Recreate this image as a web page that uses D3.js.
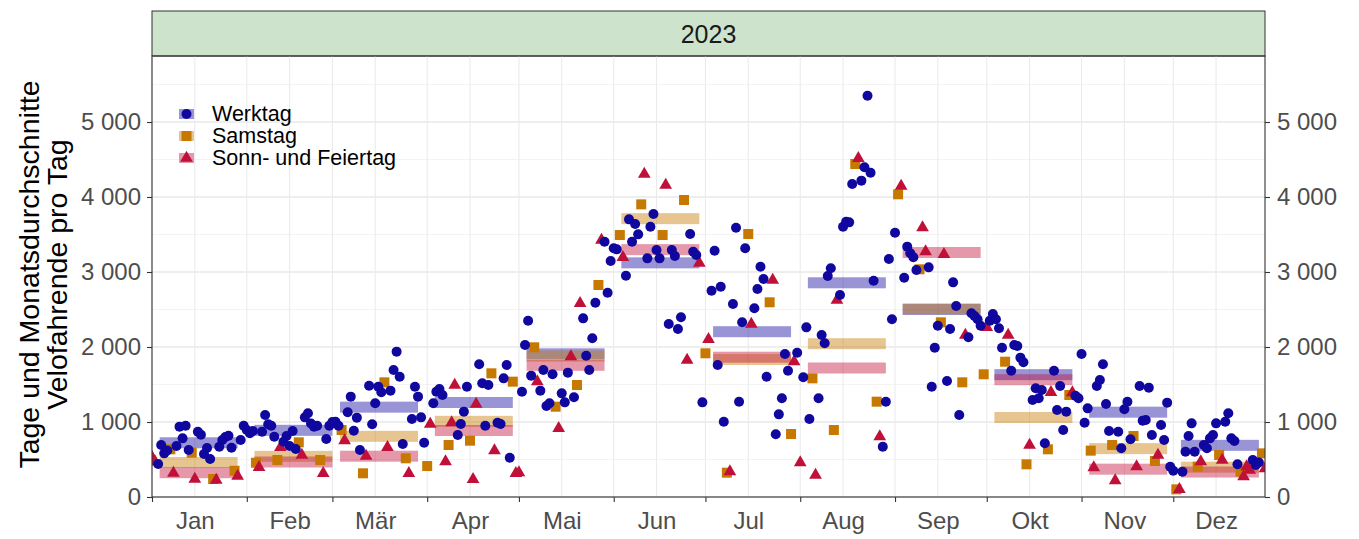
<!DOCTYPE html>
<html>
<head>
<meta charset="utf-8">
<style>
  body { margin: 0; background: #fff; font-family: "Liberation Sans", Arial, sans-serif; }
</style>
<title>Velofahrende 2023</title>
</head>
<body>
<script src="https://cdn.jsdelivr.net/npm/d3@7"></script>
<script>

// Categories and labels
var categories = ["Werktag", "Samstag", "Sonn- und Feiertag"];
var monthLabels = ["Jan", "Feb", "Mär", "Apr", "Mai", "Jun", "Jul", "Aug", "Sep", "Okt", "Nov", "Dez"];
var yTicks = [0, 1000, 2000, 3000, 4000, 5000];
var holidays = ["2023-01-02", "2023-04-07", "2023-04-10", "2023-04-17", "2023-05-01", "2023-05-18",
                "2023-06-29", "2023-08-01", "2023-09-11", "2023-12-25", "2023-12-26"];

// Daily counts, one array per month
var jan = [533, 470, 440, 693, 582, 620, 636, 320, 680, 938, 782, 950, 627, 590, 240, 870, 830, 573, 653, 507, 240, 227, 670, 760, 800, 817, 657, 350, 280, 760, 950];
var feb = [893, 849, 880, 457, 396, 871, 1093, 969, 950, 804, 493, 662, 737, 813, 680, 880, 640, 729, 560, 1062, 1116, 980, 938, 951, 493, 316, 773, 951];
var mar = [1000, 1004, 950, 893, 751, 1129, 1338, 884, 1058, 627, 316, 547, 1484, 969, 1249, 1471, 1396, 1529, 662, 1418, 1693, 1938, 1604, 707, 516, 316, 1040, 1471, 1338, 1062, 724];
var apr = [413, 973, 1249, 1404, 1440, 1360, 471, 693, 991, 1493, 827, 973, 1138, 1471, 751, 236, 1240, 1769, 1516, 951, 1493, 1649, 618, 991, 973, 1582, 1760, 524, 1538, 316];
var mai = [324, 1404, 2027, 2351, 1618, 1996, 1538, 1418, 1693, 1213, 1249, 1636, 1204, 916, 1382, 1262, 1658, 1871, 1329, 1493, 2582, 2382, 1884, 1693, 2116, 2591, 2827, 3427, 3404, 2724, 3147];
var jun = [3316, 3302, 3493, 3196, 2951, 3702, 3404, 3640, 3502, 3902, 4307, 3182, 3604, 3773, 3293, 3182, 3493, 4160, 2307, 3293, 3213, 2240, 2396, 3960, 1827, 3507, 3271, 3227, 3120, 1262];
var jul = [1916, 2102, 2751, 3284, 1760, 2804, 1004, 324, 338, 2573, 3591, 1271, 2329, 3316, 3507, 2307, 2516, 2773, 3071, 2907, 1604, 2596, 2893, 836, 1102, 1316, 1907, 1684, 840, 1804, 1924];
var aug = [458, 1596, 2262, 1040, 1582, 293, 1316, 2160, 2049, 2947, 3049, 893, 2627, 2693, 3604, 3671, 3662, 4173, 4440, 4516, 4218, 4396, 5351, 4324, 2884, 1271, 804, 671, 1271, 3173, 2369];
var sep = [3524, 4036, 4147, 2924, 3338, 3249, 3196, 3027, 3036, 3591, 3271, 3062, 1471, 1991, 2284, 2329, 3236, 1547, 2240, 2862, 2547, 1093, 1529, 2160, 2129, 2449, 2413, 2369, 2284, 1636];
var okt = [2262, 2351, 2440, 2369, 2249, 1991, 1804, 2160, 1684, 2027, 2013, 1858, 1796, 436, 693, 1293, 1449, 1316, 1427, 716, 636, 1396, 1684, 1160, 1480, 893, 1138, 1360, 1391, 1351, 1316];
var nov = [1907, 991, 1182, 618, 391, 1480, 1560, 1769, 1240, 880, 693, 218, 871, 649, 1169, 1271, 769, 813, 404, 1480, 1018, 1027, 1458, 827, 480, 560, 960, 760, 1258, 404];
var dez = [351, 102, 102, 338, 604, 813, 982, 604, 404, 471, 693, 649, 782, 827, 982, 560, 493, 1004, 1116, 782, 747, 436, 338, 271, 404, 360, 493, 427, 460, 582, 380];

// Monthly averages per category
var avgWerktag = [723, 889, 1198, 1260, 1909, 3122, 2204, 2856, 2500, 1631, 1131, 689];
var avgSamstag = [460, 542, 809, 1009, 1880, 3711, 1833, 2044, 2510, 1060, 645, 398];
var avgSonntag = [324, 467, 544, 887, 1756, 3298, 1864, 1720, 3260, 1564, 371, 333];

var monthValues = [jan, feb, mar, apr, mai, jun, jul, aug, sep, okt, nov, dez];
var averages = [avgWerktag, avgSamstag, avgSonntag];

var colors = ["#10079f", "#c77800", "#c0103a"];
var DAY = 864e5;

// build the daily table
var days = [];
monthValues.forEach(function(vals, m) {
  vals.forEach(function(v, i) {
    var date = new Date(Date.UTC(2023, m, i + 1));
    var iso = date.toISOString().slice(0, 10);
    var wd = date.getUTCDay();
    var cat = (holidays.indexOf(iso) >= 0 || wd == 0) ? 2 : (wd == 6 ? 1 : 0);
    days.push({date: date, value: v, cat: cat});
  });
});

var bars = [];
averages.forEach(function(arr, c) {
  arr.forEach(function(v, m) { bars.push({month: m, cat: c, value: v}); });
});

var width = 1359, height = 539;
var pLeft = 152, pRight = 1265, pTop = 56, pBottom = 497;

var x = d3.scaleUtc()
    .domain([new Date(Date.UTC(2023, 0, 1)), new Date(Date.UTC(2023, 11, 31))])
    .range([pLeft, pRight]);
var y = d3.scaleLinear()
    .domain([0, (pBottom - pTop) / 0.075])
    .range([pBottom, pTop]);

var fmt = d3.formatLocale({decimal: ".", thousands: " ", grouping: [3], currency: ["", ""]}).format(",d");

var svg = d3.select("body").append("svg")
    .attr("width", width)
    .attr("height", height)
    .attr("font-family", "Liberation Sans, Arial, sans-serif");

svg.append("defs").append("clipPath").attr("id", "panel")
  .append("rect").attr("x", pLeft).attr("y", pTop).attr("width", pRight - pLeft).attr("height", pBottom - pTop);

// strip
svg.append("rect")
    .attr("x", pLeft).attr("y", 11).attr("width", pRight - pLeft).attr("height", pTop - 11)
    .attr("fill", "#cde3cb").attr("stroke", "#333").attr("stroke-width", 1);
svg.append("text")
    .attr("x", (pLeft + pRight) / 2).attr("y", (11 + pTop) / 2)
    .attr("text-anchor", "middle").attr("dominant-baseline", "central")
    .attr("fill", "#1a1a1a").style("font-size", "25px")
    .text("2023");

// grid
var monthStarts = d3.range(12).map(m => new Date(Date.UTC(2023, m, 1)));
var midMonths = d3.range(12).map(m => new Date(Date.UTC(2023, m, 15)));
var grid = svg.append("g");
d3.range(500, 6000, 1000).forEach(function(v) {
  grid.append("line").attr("x1", pLeft).attr("x2", pRight).attr("y1", y(v)).attr("y2", y(v))
      .attr("stroke", "#f0f0f0").attr("stroke-width", 0.8);
});
yTicks.forEach(function(v) {
  grid.append("line").attr("x1", pLeft).attr("x2", pRight).attr("y1", y(v)).attr("y2", y(v))
      .attr("stroke", "#e8e8e8").attr("stroke-width", 1.3);
});
monthStarts.concat(midMonths).forEach(function(d) {
  grid.append("line").attr("x1", x(d)).attr("x2", x(d)).attr("y1", pTop).attr("y2", pBottom)
      .attr("stroke", "#ebebeb").attr("stroke-width", 1.1);
});

// monthly average bars
var plot = svg.append("g").attr("clip-path", "url(#panel)");
plot.selectAll(".avg")
    .data(bars)
  .enter().append("rect")
    .attr("class", "avg")
    .attr("x", d => x(new Date(Date.UTC(2023, d.month, 1) + 2.5 * DAY)))
    .attr("width", d => x(new Date(Date.UTC(2023, d.month, 1) + 28 * DAY)) - x(new Date(Date.UTC(2023, d.month, 1) + 2.5 * DAY)))
    .attr("y", d => y(d.value) - 5.5)
    .attr("height", 11)
    .attr("fill", d => colors[d.cat])
    .attr("fill-opacity", 0.43);

// daily points: saturdays, sundays, then workdays on top
var tri = d3.symbol().type(d3.symbolTriangle).size(70)();
plot.selectAll(".sat")
    .data(days.filter(d => d.cat == 1))
  .enter().append("rect")
    .attr("class", "sat")
    .attr("x", d => x(d.date) - 5).attr("y", d => y(d.value) - 5)
    .attr("width", 10).attr("height", 10)
    .attr("fill", colors[1]);
plot.selectAll(".sun")
    .data(days.filter(d => d.cat == 2))
  .enter().append("path")
    .attr("class", "sun")
    .attr("d", tri)
    .attr("transform", d => `translate(${x(d.date)},${y(d.value)})`)
    .attr("fill", colors[2]);
plot.selectAll(".work")
    .data(days.filter(d => d.cat == 0))
  .enter().append("circle")
    .attr("class", "work")
    .attr("cx", d => x(d.date)).attr("cy", d => y(d.value))
    .attr("r", 5)
    .attr("fill", colors[0]);

// panel border
svg.append("rect")
    .attr("x", pLeft).attr("y", pTop).attr("width", pRight - pLeft).attr("height", pBottom - pTop)
    .attr("fill", "none").attr("stroke", "#333").attr("stroke-width", 1.1);

// axes
function styleAxis(g) {
  g.select(".domain").remove();
  g.attr("font-size", 24).attr("font-family", "Liberation Sans, Arial, sans-serif");
  g.selectAll("line").attr("stroke", "#333").attr("stroke-width", 1.1);
  g.selectAll("text").attr("fill", "#4d4d4d");
}
svg.append("g").attr("transform", `translate(${pLeft},0)`)
    .call(d3.axisLeft(y).tickValues(yTicks).tickSize(5).tickPadding(6).tickFormat(fmt))
    .call(styleAxis);
svg.append("g").attr("transform", `translate(${pRight},0)`)
    .call(d3.axisRight(y).tickValues(yTicks).tickSize(5).tickPadding(7).tickFormat(fmt))
    .call(styleAxis);
svg.append("g").attr("transform", `translate(0,${pBottom})`)
    .call(d3.axisBottom(x).tickValues(monthStarts).tickSize(5).tickFormat(""))
    .call(styleAxis);
svg.append("g").attr("transform", `translate(0,${pBottom})`)
    .call(d3.axisBottom(x).tickValues(midMonths).tickSize(0).tickPadding(15).tickFormat((d, i) => monthLabels[i]))
    .call(styleAxis);

// y title, two lines
var titleLines = ["Tage und Monatsdurchschnitte", "Velofahrende pro Tag"];
titleLines.forEach(function(t, i) {
  svg.append("text")
      .attr("transform", `translate(${29 + i * 28},${(pTop + pBottom) / 2 - 2}) rotate(-90)`)
      .attr("text-anchor", "middle").attr("dominant-baseline", "central")
      .attr("fill", "#000").style("font-size", "28.5px")
      .text(t);
});

// legend
var legend = svg.append("g");
categories.forEach(function(c, i) {
  var ly = 114 + i * 22;
  legend.append("rect").attr("x", 179).attr("y", ly - 5).attr("width", 15).attr("height", 10)
      .attr("fill", colors[i]).attr("fill-opacity", 0.43);
  if (i == 0) legend.append("circle").attr("cx", 186.5).attr("cy", ly).attr("r", 5).attr("fill", colors[0]);
  if (i == 1) legend.append("rect").attr("x", 181.5).attr("y", ly - 5).attr("width", 10).attr("height", 10).attr("fill", colors[1]);
  if (i == 2) legend.append("path").attr("d", tri).attr("transform", `translate(186.5,${ly})`).attr("fill", colors[2]);
  legend.append("text").attr("x", 212).attr("y", ly)
      .attr("dominant-baseline", "central").style("font-size", "21.5px").attr("fill", "#000")
      .text(c);
});

</script>
</body>
</html>
